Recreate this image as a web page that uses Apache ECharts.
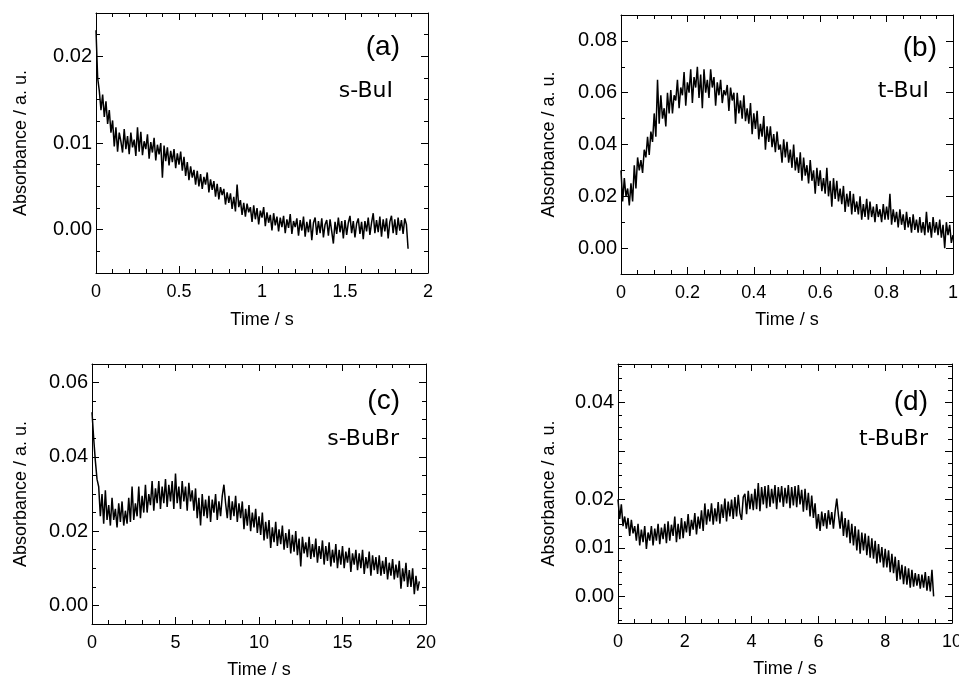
<!DOCTYPE html>
<html><head><meta charset="utf-8">
<script src="https://cdn.jsdelivr.net/npm/echarts@6/dist/echarts.min.js"></script>
<style>html,body{margin:0;padding:0;background:#fff}#c{width:959px;height:677px}</style>
</head><body><div id="c"></div>
<script>
// ---------- DATA ----------
// (a) s-BuI : sampled every 0.01 s from 0 to 1.88 s
const timeStepA = 0.01;
const absA = [
 0.0230,0.0175,0.0160,0.0138,0.0156,0.0130,0.0148,0.0122,0.0138,0.0112,
 0.0126,0.0096,0.0118,0.0090,0.0112,0.0102,0.0089,0.0116,0.0093,0.0108,
 0.0087,0.0112,0.0095,0.0104,0.0085,0.0118,0.0090,0.0113,0.0086,0.0102,
 0.0093,0.0110,0.0082,0.0101,0.0089,0.0106,0.0080,0.0098,0.0087,0.0100,
 0.0060,0.0097,0.0079,0.0095,0.0074,0.0091,0.0078,0.0093,0.0071,0.0088,
 0.0075,0.0090,0.0068,0.0084,0.0062,0.0078,0.0057,0.0073,0.0060,0.0069,
 0.0052,0.0068,0.0050,0.0064,0.0047,0.0061,0.0052,0.0066,0.0043,0.0058,
 0.0046,0.0056,0.0038,0.0053,0.0035,0.0049,0.0040,0.0047,0.0029,0.0043,
 0.0031,0.0042,0.0024,0.0038,0.0021,0.0052,0.0026,0.0034,0.0017,0.0031,
 0.0015,0.0030,0.0020,0.0026,0.0009,0.0028,0.0012,0.0025,0.0006,0.0022,
 0.0014,0.0026,0.0004,0.0020,0.0008,0.0017,-0.0001,0.0019,0.0005,0.0015,
 -0.0002,0.0014,0.0003,0.0016,-0.0004,0.0012,0.0002,0.0018,-0.0005,0.0010,
 0.0003,0.0013,-0.0007,0.0011,-0.0001,0.0015,-0.0008,0.0009,-0.0003,0.0012,
 -0.0012,0.0008,0.0014,-0.0006,0.0010,-0.0004,0.0013,-0.0009,0.0006,0.0011,
 -0.0007,0.0012,-0.0002,-0.0016,0.0009,-0.0005,0.0014,-0.0003,0.0010,-0.0010,
 0.0011,-0.0006,0.0008,0.0016,-0.0004,0.0010,-0.0009,0.0007,0.0013,-0.0005,
 0.0009,-0.0011,0.0010,-0.0002,0.0014,-0.0006,0.0008,0.0019,-0.0004,0.0011,
 -0.0003,0.0015,-0.0008,0.0012,-0.0002,0.0013,-0.0010,0.0009,0.0016,-0.0004,
 0.0012,-0.0006,0.0014,-0.0001,0.0011,-0.0005,0.0013,0.0006,-0.0022
];
// (b) t-BuI : sampled every 0.005 s from 0 to 1.0 s
const timeStepB = 0.005;
const absB = [
 0.0300,0.0180,0.0270,0.0200,0.0230,0.0165,0.0250,0.0180,0.0320,0.0230,
 0.0350,0.0300,0.0340,0.0290,0.0380,0.0350,0.0430,0.0360,0.0450,0.0410,
 0.0520,0.0430,0.0650,0.0480,0.0590,0.0500,0.0540,0.0470,0.0600,0.0520,
 0.0610,0.0520,0.0590,0.0570,0.0650,0.0540,0.0620,0.0590,0.0680,0.0550,
 0.0640,0.0600,0.0690,0.0560,0.0660,0.0620,0.0700,0.0580,0.0670,0.0540,
 0.0690,0.0600,0.0650,0.0580,0.0690,0.0620,0.0660,0.0550,0.0640,0.0590,
 0.0650,0.0560,0.0610,0.0590,0.0630,0.0530,0.0620,0.0570,0.0600,0.0480,
 0.0600,0.0520,0.0570,0.0500,0.0590,0.0490,0.0540,0.0480,0.0560,0.0440,
 0.0520,0.0460,0.0530,0.0420,0.0480,0.0430,0.0510,0.0380,0.0470,0.0410,
 0.0470,0.0390,0.0440,0.0370,0.0450,0.0380,0.0400,0.0330,0.0420,0.0350,
 0.0410,0.0330,0.0380,0.0310,0.0400,0.0300,0.0350,0.0290,0.0370,0.0260,
 0.0350,0.0280,0.0320,0.0250,0.0340,0.0260,0.0300,0.0210,0.0310,0.0240,
 0.0300,0.0220,0.0270,0.0210,0.0310,0.0200,0.0260,0.0160,0.0270,0.0190,
 0.0260,0.0180,0.0230,0.0170,0.0240,0.0140,0.0210,0.0160,0.0220,0.0130,
 0.0210,0.0140,0.0180,0.0130,0.0200,0.0110,0.0170,0.0120,0.0190,0.0110,
 0.0180,0.0120,0.0160,0.0100,0.0170,0.0120,0.0150,0.0100,0.0170,0.0110,
 0.0160,0.0110,0.0210,0.0090,0.0150,0.0100,0.0140,0.0080,0.0150,0.0090,
 0.0130,0.0070,0.0140,0.0080,0.0120,0.0060,0.0130,0.0070,0.0110,0.0060,
 0.0120,0.0060,0.0100,0.0050,0.0140,0.0060,0.0100,0.0040,0.0120,0.0060,
 0.0100,0.0050,0.0110,0.0040,0.0090,0.0000,0.0100,0.0050,0.0090,0.0020,
 0.0050
];
// (c) s-BuBr : sampled every 0.1 s from 0 to 19.6 s
const timeStepC = 0.1;
const absC = [
 0.0520,0.0450,0.0390,0.0340,0.0320,0.0240,0.0300,0.0220,0.0310,0.0230,
 0.0270,0.0215,0.0290,0.0230,0.0260,0.0210,0.0275,0.0225,0.0280,0.0215,
 0.0255,0.0220,0.0290,0.0225,0.0320,0.0230,0.0275,0.0240,0.0320,0.0235,
 0.0295,0.0250,0.0325,0.0250,0.0300,0.0270,0.0335,0.0255,0.0315,0.0275,
 0.0335,0.0260,0.0320,0.0275,0.0340,0.0265,0.0325,0.0280,0.0335,0.0260,
 0.0355,0.0275,0.0320,0.0260,0.0335,0.0280,0.0320,0.0255,0.0330,0.0280,
 0.0310,0.0255,0.0315,0.0235,0.0290,0.0215,0.0300,0.0240,0.0285,0.0235,
 0.0295,0.0225,0.0285,0.0250,0.0300,0.0230,0.0280,0.0240,0.0295,0.0325,
 0.0275,0.0235,0.0295,0.0230,0.0280,0.0240,0.0295,0.0225,0.0275,0.0235,
 0.0280,0.0205,0.0260,0.0215,0.0270,0.0200,0.0250,0.0210,0.0260,0.0195,
 0.0240,0.0190,0.0250,0.0175,0.0225,0.0180,0.0230,0.0155,0.0210,0.0170,
 0.0225,0.0160,0.0205,0.0165,0.0215,0.0150,0.0195,0.0155,0.0205,0.0140,
 0.0190,0.0145,0.0200,0.0135,0.0180,0.0105,0.0185,0.0140,0.0170,0.0130,
 0.0185,0.0125,0.0165,0.0130,0.0180,0.0115,0.0160,0.0125,0.0175,0.0110,
 0.0160,0.0120,0.0170,0.0105,0.0150,0.0115,0.0165,0.0100,0.0150,0.0110,
 0.0160,0.0100,0.0145,0.0115,0.0155,0.0090,0.0140,0.0110,0.0150,0.0095,
 0.0140,0.0100,0.0150,0.0085,0.0130,0.0100,0.0145,0.0080,0.0135,0.0095,
 0.0130,0.0085,0.0135,0.0080,0.0120,0.0085,0.0130,0.0070,0.0115,0.0080,
 0.0125,0.0070,0.0110,0.0075,0.0120,0.0045,0.0100,0.0065,0.0115,0.0050,
 0.0095,0.0050,0.0100,0.0030,0.0080,0.0040,0.0065
];
// (d) t-BuBr : sampled every 0.05 s from 0 to 9.45 s
const timeStepD = 0.05;
const absD = [
 0.0200,0.0160,0.0190,0.0145,0.0165,0.0140,0.0162,0.0125,0.0158,0.0130,
 0.0145,0.0115,0.0150,0.0105,0.0138,0.0112,0.0145,0.0098,0.0132,0.0115,
 0.0145,0.0105,0.0140,0.0115,0.0150,0.0108,0.0142,0.0118,0.0150,0.0110,
 0.0155,0.0115,0.0148,0.0125,0.0165,0.0112,0.0150,0.0118,0.0162,0.0120,
 0.0155,0.0132,0.0170,0.0125,0.0158,0.0138,0.0172,0.0128,0.0165,0.0140,
 0.0178,0.0135,0.0192,0.0148,0.0180,0.0155,0.0192,0.0148,0.0182,0.0155,
 0.0195,0.0150,0.0190,0.0162,0.0202,0.0155,0.0196,0.0165,0.0200,0.0160,
 0.0205,0.0165,0.0210,0.0172,0.0158,0.0205,0.0212,0.0170,0.0218,0.0180,
 0.0212,0.0178,0.0222,0.0180,0.0234,0.0176,0.0226,0.0190,0.0228,0.0182,
 0.0230,0.0185,0.0222,0.0192,0.0230,0.0180,0.0226,0.0194,0.0228,0.0185,
 0.0224,0.0192,0.0230,0.0182,0.0226,0.0188,0.0228,0.0184,0.0230,0.0190,
 0.0220,0.0175,0.0222,0.0178,0.0214,0.0165,0.0208,0.0162,0.0192,0.0140,
 0.0170,0.0135,0.0175,0.0145,0.0172,0.0140,0.0178,0.0148,0.0174,0.0140,
 0.0175,0.0202,0.0168,0.0140,0.0175,0.0125,0.0162,0.0122,0.0158,0.0110,
 0.0150,0.0105,0.0145,0.0095,0.0138,0.0088,0.0132,0.0095,0.0130,0.0085,
 0.0125,0.0080,0.0120,0.0078,0.0115,0.0068,0.0108,0.0070,0.0102,0.0060,
 0.0098,0.0060,0.0095,0.0050,0.0088,0.0048,0.0082,0.0032,0.0075,0.0035,
 0.0065,0.0025,0.0062,0.0024,0.0058,0.0018,0.0055,0.0020,0.0048,0.0022,
 0.0046,0.0016,0.0045,0.0018,0.0050,0.0012,0.0042,0.0010,0.0055,0.0000
];
// tick labels
const xLabelsA = [0, 0.5, 1, 1.5, 2];
const yLabelsA = [0, 0.01, 0.02];
const xLabelsB = [0, 0.2, 0.4, 0.6, 0.8, 1];
const yLabelsB = [0, 0.02, 0.04, 0.06, 0.08];
const xLabelsC = [0, 5, 10, 15, 20];
const yLabelsC = [0, 0.02, 0.04, 0.06];
const xLabelsD = [0, 2, 4, 6, 8, 10];
const yLabelsD = [0, 0.01, 0.02, 0.04];
const yMajorD = [0, 0.01, 0.02, 0.03, 0.04];
const panelLetters = ['(a)', '(b)', '(c)', '(d)'];
const compounds = ['s-BuI', 't-BuI', 's-BuBr', 't-BuBr'];
const xTitle = 'Time / s';
const yTitle = 'Absorbance / a. u.';

// ---------- LAYOUT ----------
function pairs(step, ys) { return ys.map((y, i) => [+(i * step).toFixed(4), y]); }
function steps(min, max, step) {
  const out = []; const n = Math.round((max - min) / step);
  for (let i = 0; i <= n; i++) out.push(+(min + i * step).toFixed(6));
  return out;
}
const FONT = '"Liberation Sans", Arial, Helvetica, sans-serif';
const panels = [
  { grid: {left: 96, top: 13, width: 332, height: 260}, data: pairs(timeStepA, absA),
    x: {min: 0, max: 2, major: xLabelsA, labels: xLabelsA, minor: 0.1, fmt: v => String(v)},
    y: {min: -0.005, max: 0.025, major: yLabelsA, labels: yLabelsA, minor: 0.0025, fmt: v => v.toFixed(2)},
    yGap: 66, xGap: 38,
    letter: {x: 400, y: 47}, comp: {x: 393, y: 91} },
  { grid: {left: 621, top: 15, width: 332, height: 259}, data: pairs(timeStepB, absB),
    x: {min: 0, max: 1, major: xLabelsB, labels: xLabelsB, minor: 0.05, fmt: v => String(v)},
    y: {min: -0.01, max: 0.09, major: yLabelsB, labels: yLabelsB, minor: 0.01, fmt: v => v.toFixed(2)},
    yGap: 63, xGap: 37,
    letter: {x: 937, y: 48}, comp: {x: 929, y: 91} },
  { grid: {left: 92, top: 364, width: 334, height: 260}, data: pairs(timeStepC, absC),
    x: {min: 0, max: 20, major: xLabelsC, labels: xLabelsC, minor: 1, fmt: v => String(v)},
    y: {min: -0.005, max: 0.065, major: yLabelsC, labels: yLabelsC, minor: 0.005, fmt: v => v.toFixed(2)},
    yGap: 62, xGap: 37,
    letter: {x: 400, y: 401}, comp: {x: 399, y: 439} },
  { grid: {left: 618, top: 364, width: 334, height: 259}, data: pairs(timeStepD, absD),
    x: {min: 0, max: 10, major: xLabelsD, labels: xLabelsD, minor: 0.5, fmt: v => String(v)},
    y: {min: -0.0055, max: 0.048, major: yMajorD, labels: yLabelsD, minor: 0.0025, fmt: v => v.toFixed(2)},
    yGap: 60, xGap: 37,
    letter: {x: 928, y: 402}, comp: {x: 928, y: 439} }
];

const grids = [], xAxes = [], yAxes = [], series = [], graphics = [];
function axisSet(list, gi, a, isX, name, gap) {
  const posMain = isX ? 'bottom' : 'left', posMirror = isX ? 'top' : 'right';
  const minorVals = steps(Math.ceil(a.min / a.minor - 1e-6) * a.minor, a.max, a.minor).filter(v => v >= a.min - 1e-9 && v <= a.max + 1e-9);
  const base = { type: 'value', gridIndex: gi, min: a.min, max: a.max, splitLine: {show: false}, scale: false };
  const mainIdx = list.length;
  list.push(Object.assign({}, base, {
    position: posMain,
    axisLine: {show: true, onZero: false, lineStyle: {color: '#000', width: 1}},
    axisTick: {show: true, inside: true, length: 7, customValues: a.major, lineStyle: {color: '#000', width: 1}},
    axisLabel: {show: true, customValues: a.labels, formatter: a.fmt, color: '#000',
      fontFamily: FONT, fontSize: isX ? 18 : 20, margin: isX ? 10 : 4, hideOverlap: false, showMinLabel: true, showMaxLabel: true},
    name: name, nameLocation: 'middle', nameGap: gap, nameRotate: isX ? 0 : 90,
    nameTextStyle: {color: '#000', fontFamily: FONT, fontSize: 18}
  }));
  list.push(Object.assign({}, base, {
    position: posMain,
    axisLine: {show: false, onZero: false},
    axisTick: {show: true, inside: true, length: 4, customValues: minorVals, lineStyle: {color: '#000', width: 1}},
    axisLabel: {show: false}
  }));
  list.push(Object.assign({}, base, {
    position: posMirror,
    axisLine: {show: true, onZero: false, lineStyle: {color: '#000', width: 1}},
    axisTick: {show: true, inside: true, length: 7, customValues: a.major, lineStyle: {color: '#000', width: 1}},
    axisLabel: {show: false}
  }));
  list.push(Object.assign({}, base, {
    position: posMirror,
    axisLine: {show: false, onZero: false},
    axisTick: {show: true, inside: true, length: 4, customValues: minorVals, lineStyle: {color: '#000', width: 1}},
    axisLabel: {show: false}
  }));
  return mainIdx;
}
panels.forEach((p, i) => {
  grids.push(Object.assign({containLabel: false, outerBoundsMode: 'none'}, p.grid));
  const xi = axisSet(xAxes, i, p.x, true, xTitle, p.xGap);
  const yi = axisSet(yAxes, i, p.y, false, yTitle, p.yGap);
  series.push({
    type: 'line', name: compounds[i], xAxisIndex: xi, yAxisIndex: yi, data: p.data,
    showSymbol: false, symbol: 'none', animation: false, clip: true,
    lineStyle: {color: '#000', width: 1.5, join: 'bevel'}
  });
  graphics.push({type: 'text', x: p.letter.x, y: p.letter.y,
    style: {text: panelLetters[i], fill: '#000', font: '28px ' + FONT, textAlign: 'right', textVerticalAlign: 'middle'}});
  graphics.push({type: 'text', x: p.comp.x, y: p.comp.y,
    style: {text: compounds[i], fill: '#000', font: '22px "DejaVu Sans", "Noto Sans", sans-serif', textAlign: 'right', textVerticalAlign: 'middle'}});
});

const chart = echarts.init(document.getElementById('c'), null, {renderer: 'canvas'});
chart.setOption({
  animation: false,
  backgroundColor: '#fff',
  grid: grids, xAxis: xAxes, yAxis: yAxes, series: series, graphic: graphics
});
</script>
</body></html>
